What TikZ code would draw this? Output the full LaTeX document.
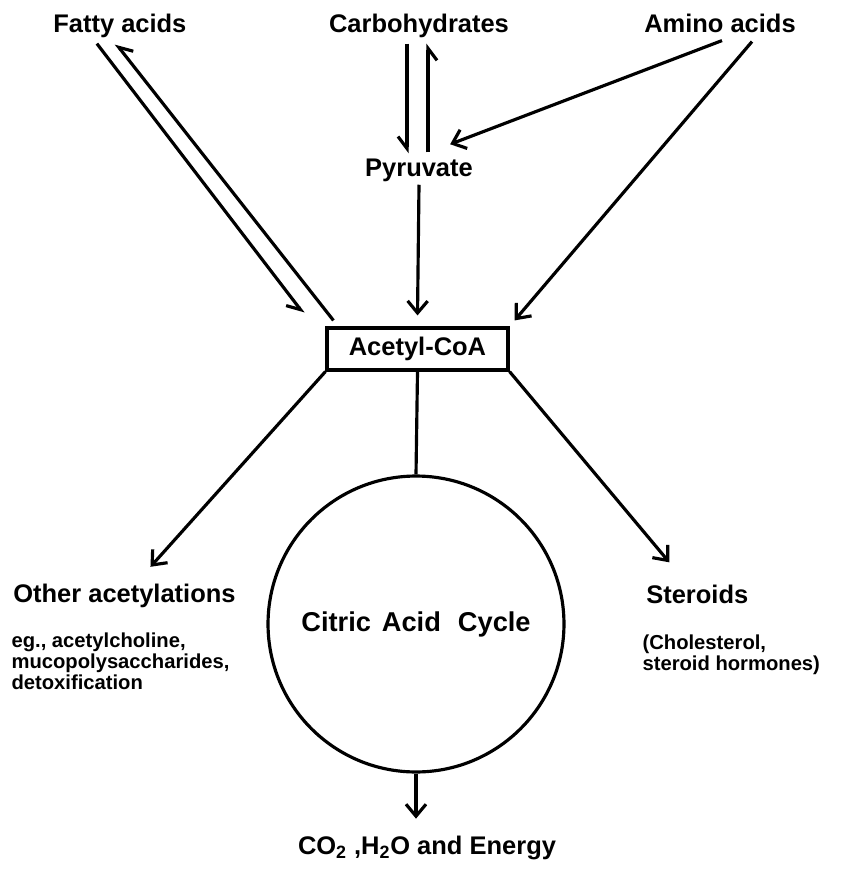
\documentclass[tikz,border=0pt]{standalone}
\usepackage{fontspec}
\setmainfont{Liberation Sans}
\usetikzlibrary{arrows.meta,calc}

\tikzset{
  word/.style={inner sep=1pt,font=\fontsize{14.5}{16}\selectfont\bfseries},
  subtext/.style={inner sep=0pt,align=left,font=\fontsize{11.5}{12}\selectfont\bfseries},
  half/.style={-{Straight Barb[harpoon,swap,length=2.4mm,width=3.6mm]}},
}

\begin{document}
\begin{tikzpicture}[x=0.02cm,y=-0.02cm,line width=1.8pt,>={Straight Barb[length=2.4mm,width=4mm]}]
\useasboundingbox (0,0) rectangle (845,872);

% sources
\node[word,anchor=base west] (fatty) at (50,32) {Fatty acids};
\node[word,anchor=base] (carbo) at (419,32) {Carbohydrates};
\node[word,anchor=base] (amino) at (720,32) {Amino acids};
\node[word] (pyr) at (419,170) {Pyruvate};

\node[word,draw,minimum width=3.62cm,minimum height=0.84cm] (acoa) at (417.5,349) {Acetyl-CoA};
\node[word,draw,circle,minimum size=5.92cm,font=\fontsize{15.5}{17}\selectfont\bfseries] (tca) at (416,624) {Citric\hspace{0.22cm}Acid\hspace{0.34cm}Cycle};

% products
\node[word,anchor=west] (other) at (10,596) {Other acetylations};
\node[subtext,anchor=north west] (othernote) at (10,631) {eg., acetylcholine,\\mucopolysaccharides,\\detoxification};
\node[word,anchor=west] (ster) at (643,594) {Steroids};
\node[subtext,anchor=north west] (sternote) at (641,633) {(Cholesterol,\\ steroid hormones)};
\node[word] (prod) at (427,848) {CO\textsubscript{2} ,H\textsubscript{2}O and Energy};

\draw[half] ($(fatty.south)+(-23,3)$) -- ($(acoa.north west)+(-22,-13)$);
\draw[half] ($(acoa.north west)+(8,-6)$) -- ($(fatty.south)+(-4,3)$);
\draw[half] ($(carbo.south)+(-12,3)$) -- ($(pyr.north)+(-12,-2)$);
\draw[half] ($(pyr.north)+(9,-3)$) -- ($(carbo.south)+(9,3)$);
\draw[->] ($(amino.south)+(2,5)$) -- ($(pyr.north east)+(-26,-11)$);
\draw[->] ($(amino.south)+(32,6)$) -- ($(acoa.north east)+(5,-6)$);
\draw[->] (pyr.south) -- ($(acoa.north)+(0,-11)$);

\draw[->] (acoa.south west) -- ($(other.north)+(26,-14)$);
\draw[->] (acoa.south east) -- ($(ster.north)+(-28,-19)$);
\draw (acoa.south) -- (tca.north);
\draw[->,shorten >=8pt] (tca.south) -- (tca.south |- prod.north);
\end{tikzpicture}
\end{document}
